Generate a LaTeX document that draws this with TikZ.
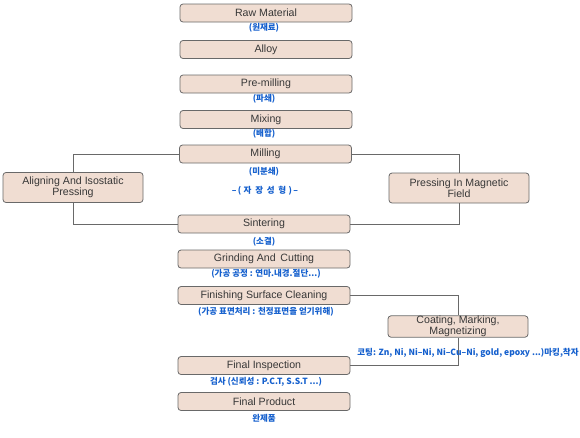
\documentclass[tikz,border=0pt]{standalone}
\usepackage{fontspec}
\setmainfont{Liberation Sans}
\newfontfamily\krfont{Noto Sans CJK KR}
\definecolor{boxfill}{RGB}{240,221,210}
\definecolor{boxline}{RGB}{105,105,105}
\definecolor{boxtext}{RGB}{55,55,55}
\definecolor{krblue}{RGB}{20,95,205}
\begin{document}
\begin{tikzpicture}[x=1pt,y=-1pt,
    stepbox/.style={draw=boxline,fill=boxfill,rounded corners=3pt,line width=0.8pt,text=boxtext,
      minimum width=172pt,minimum height=18pt,inner sep=0pt,font=\fontsize{10.6}{11.5}\selectfont},
    sidebox/.style={stepbox,minimum width=140pt,minimum height=30pt,align=center},
    note/.style={text=krblue,font=\krfont\bfseries\fontsize{8.5}{9}\selectfont},
    link/.style={draw=boxline,line width=0.8pt}
  ]
  \useasboundingbox (0,0) rectangle (580,437);

  % main flow
  \node[stepbox] (raw) at (266,13) {Raw Material};
  \node[stepbox] (alloy) at (266,49.5) {Alloy};
  \node[stepbox] (premill) at (266,84) {Pre-milling};
  \node[stepbox] (mixing) at (266,119.5) {Mixing};
  \node[stepbox] (milling) at (265.5,154) {Milling};
  \node[stepbox] (sinter) at (264,224) {Sintering};
  \node[stepbox] (grind) at (264,259) {Grinding And\, Cutting};
  \node[stepbox] (finish) at (264,295.5) {Finishing Surface Cleaning};
  \node[stepbox] (inspect) at (264,365.5) {Final Inspection};
  \node[stepbox] (product) at (264,401.5) {Final Product};

  % side steps
  \node[sidebox] (align) at (73,187.5) {Aligning And Isostatic\\Pressing};
  \node[sidebox] (press) at (459,188) {Pressing In Magnetic\\Field};
  \node[sidebox,minimum height=21pt] (coat) at (458,326.5) {Coating, Marking,\\Magnetizing};

  \draw[link] (milling.west) -| (align.north);
  \draw[link] (align.south) |- (sinter.west);
  \draw[link] (milling.east) -| (press.north);
  \draw[link] (press.south) |- (sinter.east);
  \draw[link] (finish.east) -| (coat.north);
  \draw[link] (coat.south) |- (inspect.east);

  % notes
  \node[note] (rawnote) at (264,28) {(원재료)};
  \node[note] (premillnote) at (264,99) {(파쇄)};
  \node[note] (mixingnote) at (264,134) {(배합)};
  \node[note] (millingnote) at (264,172) {(미분쇄)};
  \node[note] (fieldnote) at (265,191) {–\,(\;자\;\,장\;\,성\;\,형\;)\,–};
  \node[note] (sinternote) at (264,242) {(소결)};
  \node[note] (grindnote) at (266,274) {(가공 공정 : 연마.내경.절단...)};
  \node[note] (finishnote) at (266,312) {(가공 표면처리 : 천정표면을 얻기위해)};
  \node[note] (coatnote) at (468,353) {코팅: Zn, Ni, Ni–Ni, Ni–Cu–Ni, gold, epoxy ...)마킹,착자};
  \node[note] (inspectnote) at (266,382) {검사 (신뢰성 : P.C.T, S.S.T ...)};
  \node[note] (productnote) at (264,418) {완제품};
\end{tikzpicture}
\end{document}
